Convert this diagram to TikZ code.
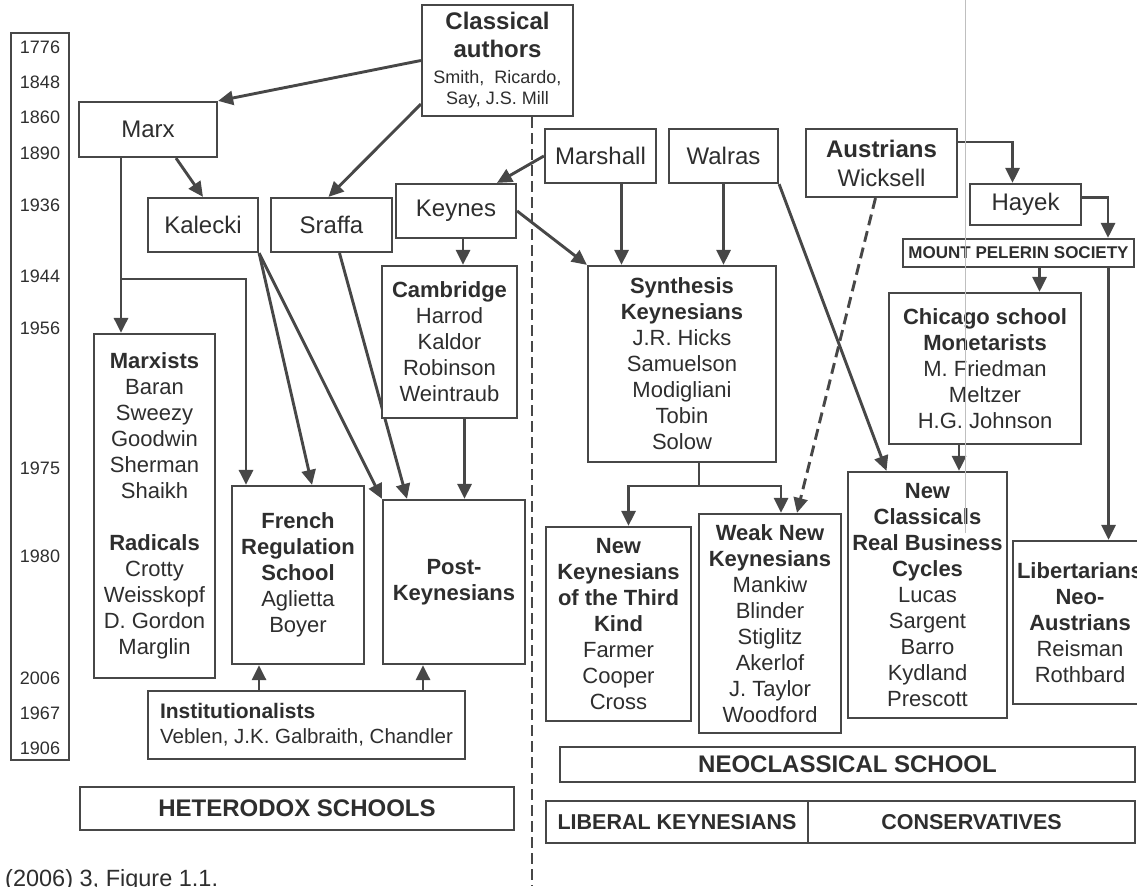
\documentclass[tikz,border=0pt]{standalone}
\usepackage{fontspec}
\setmainfont{Liberation Sans}
\usetikzlibrary{arrows.meta}
\pgfdeclarelayer{background}
\pgfdeclarelayer{foreground}
\pgfsetlayers{background,main,foreground}
\definecolor{ink}{HTML}{2E2E2E}
\definecolor{lncol}{HTML}{474747}

\begin{document}
\begin{tikzpicture}[x=1pt,y=-1pt,
					schoolbox/.style={draw=lncol, line width=2.2pt, fill=white, inner sep=0pt, align=center, text=ink, font=\fontsize{22}{26}\selectfont},
					namebox/.style={schoolbox, font=\fontsize{24}{29}\selectfont},
					banner/.style={schoolbox, font=\fontsize{24}{28}\selectfont\bfseries},
					yearlabel/.style={text=ink, inner sep=0pt, font=\fontsize{18}{21}\selectfont},
					link/.style={draw=lncol, line width=2.9pt, -{Triangle[length=15pt,width=14pt]}},
					dlink/.style={link, dash pattern=on 11pt off 6pt},
					plainlink/.style={draw=lncol, line width=2.9pt},
					divider/.style={draw=lncol, line width=2.2pt, dash pattern=on 11pt off 5pt},
					]
					\useasboundingbox (0,0) rectangle (1137,886);
					%Years
					\node[schoolbox, minimum width=58pt, minimum height=727pt] (yearcol) at (40,396.5) {};
					\foreach \yr/\py in {1776/47, 1848/82, 1860/117, 1890/153, 1936/205, 1944/276, 1956/328, 1975/468, 1980/556, 2006/678, 1967/713, 1906/748}
						\node[yearlabel] (y\yr) at (40,\py) {\yr};
					
					%Nodes
					\node[schoolbox, minimum width=151pt, minimum height=111pt, font=\fontsize{18}{28}\selectfont] (cls) at (497.5,60.5)
						{\fontsize{24}{28}\selectfont\bfseries Classical\\\fontsize{24}{28}\selectfont\bfseries authors\\[-2pt]Smith,\ \ Ricardo,\\[-7pt]Say, J.S. Mill};
					\node[namebox, minimum width=138pt, minimum height=55pt] (marx) at (148,129.5) {Marx};
					\node[namebox, minimum width=110pt, minimum height=54pt] (kal) at (203,225) {Kalecki};
					\node[namebox, minimum width=121pt, minimum height=54pt] (sra) at (331.5,225) {Sraffa};
					\node[namebox, minimum width=120pt, minimum height=54pt] (key) at (456,211) {Keynes};
					\node[namebox, minimum width=111pt, minimum height=54pt] (mar) at (600.5,156) {Marshall};
					\node[namebox, minimum width=109pt, minimum height=54pt] (wal) at (723.5,156) {Walras};
					\node[namebox, minimum width=151pt, minimum height=68pt] (aus) at (881.5,163) {\textbf{Austrians}\\Wicksell};
					\node[namebox, minimum width=111pt, minimum height=41pt] (hay) at (1025.5,204.5) {Hayek};
					\node[schoolbox, minimum width=231pt, minimum height=28pt, font=\fontsize{17}{20}\selectfont\bfseries] (mps) at (1018.5,253) {MOUNT PELERIN SOCIETY};
					
					\node[schoolbox, minimum width=135pt, minimum height=152pt] (cam) at (449.5,342) {\textbf{Cambridge}\\Harrod\\Kaldor\\Robinson\\Weintraub};
					\node[schoolbox, minimum width=188pt, minimum height=196pt] (syn) at (682,364) {\textbf{Synthesis}\\\textbf{Keynesians}\\J.R. Hicks\\Samuelson\\Modigliani\\Tobin\\Solow};
					\node[schoolbox, minimum width=192pt, minimum height=151pt] (chi) at (985,368.5) {\textbf{Chicago school}\\\textbf{Monetarists}\\M. Friedman\\Meltzer\\H.G. Johnson};
					
					\node[schoolbox, minimum width=121pt, minimum height=344pt] (mxs) at (154.5,506) {\textbf{Marxists}\\Baran\\Sweezy\\Goodwin\\Sherman\\Shaikh\\[26pt]\textbf{Radicals}\\Crotty\\Weisskopf\\D. Gordon\\Marglin};
					\node[schoolbox, minimum width=132pt, minimum height=178pt] (frs) at (298,575) {\textbf{French}\\\textbf{Regulation}\\\textbf{School}\\Aglietta\\Boyer};
					\node[schoolbox, minimum width=142pt, minimum height=164pt] (pkn) at (454,582) {\textbf{Post-}\\\textbf{Keynesians}};
					\node[schoolbox, align=left, minimum width=317pt, minimum height=68pt, font=\fontsize{20.5}{25}\selectfont] (ins) at (306.5,725) {\fontsize{21}{25}\selectfont\bfseries Institutionalists\\Veblen, J.K. Galbraith, Chandler};
					
					\node[schoolbox, minimum width=145pt, minimum height=194pt] (nk3) at (618.5,624) {\textbf{New}\\\textbf{Keynesians}\\\textbf{of the Third}\\\textbf{Kind}\\Farmer\\Cooper\\Cross};
					\node[schoolbox, minimum width=142pt, minimum height=219pt] (wnk) at (770,623.5) {\textbf{Weak New}\\\textbf{Keynesians}\\Mankiw\\Blinder\\Stiglitz\\Akerlof\\J. Taylor\\Woodford};
					\node[schoolbox, minimum width=159pt, minimum height=246pt] (ncl) at (927.5,595) {\textbf{New}\\\textbf{Classicals}\\\textbf{Real Business}\\\textbf{Cycles}\\Lucas\\Sargent\\Barro\\Kydland\\Prescott};
					\node[schoolbox, minimum width=134pt, minimum height=163pt] (lib) at (1080,622.5) {\textbf{Libertarians}\\\textbf{Neo-}\\\textbf{Austrians}\\Reisman\\Rothbard};
					
					\node[banner, minimum width=434pt, minimum height=43pt] (het) at (297,808.5) {HETERODOX SCHOOLS};
					\node[banner, minimum width=575pt, minimum height=35pt] (neo) at (847.5,764.5) {NEOCLASSICAL SCHOOL};
					\node[schoolbox, minimum width=262pt, minimum height=42pt, font=\fontsize{21.5}{26}\selectfont\bfseries] (libk) at (677,822) {LIBERAL KEYNESIANS};
					\node[schoolbox, minimum width=327pt, minimum height=42pt, font=\fontsize{21.5}{26}\selectfont\bfseries] (cons) at (971.5,822) {CONSERVATIVES};
					
					\node[anchor=west, inner sep=0pt, text=ink, font=\fontsize{23.5}{28}\selectfont] (src) at (5,880) {(2006) 3, Figure 1.1.};
					
					\coordinate (mxb) at (121,279);
					\coordinate (frb) at (246,279);
					\coordinate (synb) at (699,486);
					\coordinate (divb) at (532,886);
					
					\begin{pgfonlayer}{background}
					%Lines
					\draw[divider] (cls.south -| divb) -- (divb);
					\draw[link] (cls.west) -- (marx.north east);
					\draw[link] ([yshift=13pt]cls.south west) -- ([xshift=-3pt]sra.north);
					\draw[link] ([xshift=28pt]marx.south) -- (kal.north);
					\draw[link] ([xshift=-27pt]marx.south) -- ([xshift=-27pt]marx.south |- mxs.north);
					\draw[link] (mxb) -| (frb |- frs.north);
					\draw[link] (kal.south east) -- ([xshift=14pt]frs.north);
					\draw[link] (kal.south east) -- (pkn.north west);
					\draw[link] ([xshift=8pt]sra.south) -- ([xshift=-47pt]pkn.north);
					\draw[link] ([xshift=15pt]cam.south) -- ([xshift=15pt]cam.south |- pkn.north);
					\draw[link] ([xshift=-39pt]frs.south |- ins.north) -- ([xshift=-39pt]frs.south);
					\draw[link] ([xshift=-31pt]pkn.south |- ins.north) -- ([xshift=-31pt]pkn.south);
					\draw[link] (mar.west) -- ([xshift=41pt]key.north);
					\draw[link] (key.east) -- (syn.north west);
					\draw[link] ([xshift=7pt]key.south) -- ([xshift=7pt]key.south |- cam.north);
					\draw[link] ([xshift=21pt]mar.south) -- ([xshift=21pt]mar.south |- syn.north);
					\draw[link] (wal.south) -- (wal.south |- syn.north);
					\draw[link] (wal.south east) -- ([xshift=-41pt]ncl.north);
					\draw[link] ([yshift=21pt]aus.east) -| ([xshift=-13pt]hay.north);
					\draw[link] ([yshift=7pt]hay.east) -| ([xshift=89.5pt]mps.north);
					\draw[link] ([xshift=21pt]mps.south) -- ([xshift=21pt]mps.south |- chi.north);
					\draw[link] ([xshift=90pt]mps.south) -- ([xshift=90pt]mps.south |- lib.north);
					\draw[link] ([xshift=-26pt]chi.south) -- ([xshift=-26pt]chi.south |- ncl.north);
					\draw[dlink] ([xshift=-6pt]aus.south) -- ([xshift=27pt]wnk.north);
					\draw[plainlink] ([xshift=17pt]syn.south) -- (synb);
					\draw[link] (synb) -| ([xshift=10pt]nk3.north);
					\draw[link] (synb) -| ([xshift=11pt]wnk.north);
					\end{pgfonlayer}
					
					\begin{pgfonlayer}{foreground}
					\draw[gray!50, line width=0.7pt] (965,0) -- (965,533);
					\end{pgfonlayer}
				\end{tikzpicture}
\end{document}
